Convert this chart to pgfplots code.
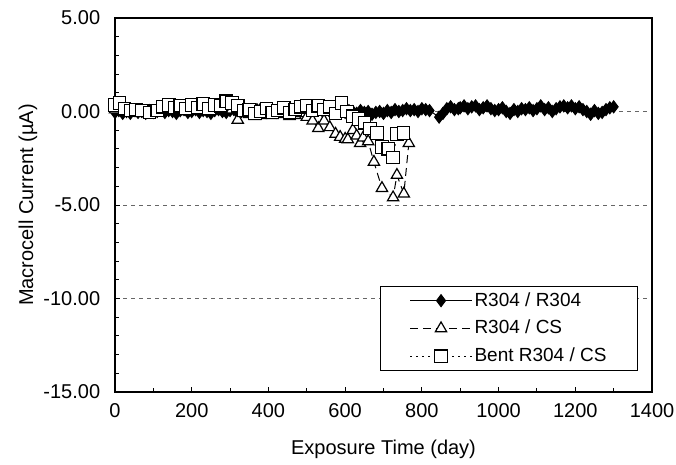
\documentclass[border=0pt]{standalone}
\usepackage{fontspec}
\setmainfont{Liberation Sans}
\usepackage{pgfplots}
\pgfplotsset{compat=1.18}
\begin{document}
\fontsize{20bp}{24bp}\selectfont
\begin{tikzpicture}
\useasboundingbox (0,0) rectangle (676bp,465bp);
\begin{axis}[
  at={(115bp,73bp)}, anchor=south west,
  scale only axis, width=537bp, height=374bp,
  xmin=0, xmax=1400, ymin=-15, ymax=5,
  xtick={0,200,...,1400}, minor x tick num=1,
  ytick={-15,-10,-5,0,5}, minor y tick num=4,
  tick pos=left, tick align=inside,
  major tick length=5bp, minor tick length=4bp,
  every tick/.style={black, line width=0.9bp},
  axis line style={line width=1.6bp},
  /pgf/number format/assume math mode=true,
  /pgf/number format/1000 sep={},
  scaled y ticks=false,
  y tick label style={/pgf/number format/.cd, fixed, fixed zerofill, precision=2, /tikz/.cd, xshift=-8bp},
  x tick label style={yshift=-5bp},
  ymajorgrids,
  grid style={black!60, line width=0.9bp, dash pattern=on 4bp off 4bp},
  xlabel={Exposure Time (day)},
  ylabel={Macrocell Current (µA)},
  xlabel style={at={(axis description cs:0.5,-0.152)}, anchor=center},
  ylabel style={at={(axis description cs:-0.162,0.5)}, anchor=center},
  legend style={at={(rel axis cs:0.974,0.056)}, anchor=south east, draw=black, line width=1bp, fill=white,
    font=\fontsize{19bp}{22bp}\selectfont, inner xsep=29bp, inner ysep=4bp, row sep=7bp,
    nodes={inner xsep=2bp}},
  legend cell align=left,
  legend image code/.code={\draw[mark repeat=2,mark phase=2] plot coordinates {(0bp,0bp) (31bp,0bp) (62bp,0bp)};},
]
\addplot[black, line width=1bp, mark=diamond*, mark size=6bp, mark options={solid, fill=black}] coordinates {
(0,-0.05) (10,0.05) (20,-0.1) (30,0.0) (40,-0.1) (50,0.05) (60,-0.05) (70,0.0) (80,-0.1) (90,0.05)
(100,-0.05) (110,0.0) (120,0.1) (130,-0.05) (140,0.05) (150,0.0) (160,-0.1) (170,0.05) (180,0.1) (190,-0.05)
(200,0.0) (210,0.1) (220,-0.05) (230,0.05) (240,0.0) (250,-0.1) (260,0.05) (270,0.1) (280,0.0) (290,-0.05)
(300,0.05) (310,0.1) (320,-0.05) (330,0.0) (340,0.1) (350,0.05) (360,-0.05) (370,0.1) (380,0.15) (390,0.05)
(400,0.0) (410,0.1) (420,-0.05) (430,0.05) (440,0.15) (450,0.1) (460,0.0) (470,0.1) (480,0.15) (490,0.05)
(500,0.1) (510,0.0) (520,0.1) (530,0.15) (540,0.05) (550,0.1) (560,0.0) (570,0.05) (580,0.1) (590,0.0)
(600,-0.05) (610,0.05) (620,0.0) (630,-0.1) (640,0.05) (650,-0.05) (660,0.0) (670,-0.15) (680,-0.05) (690,0.0)
(700,-0.1) (710,0.05) (720,-0.05) (730,0.1) (740,0.0) (750,0.05) (760,0.15) (770,0.05) (780,0.1) (790,0.0)
(800,0.15) (810,0.1) (820,0.05) (845,-0.3) (855,-0.1) (865,0.15) (875,0.25) (885,0.1) (895,0.15)
(900,0.2) (910,0.3) (920,0.15) (930,0.25) (940,0.3) (950,0.1) (960,0.2) (970,0.3) (980,0.15) (990,0.05)
(1000,0.1) (1010,0.2) (1020,0.0) (1030,-0.1) (1040,0.1) (1050,0.0) (1060,0.15) (1070,0.1) (1080,0.2) (1090,0.05)
(1100,0.15) (1110,0.3) (1120,0.1) (1130,0.2) (1140,0.0) (1150,0.15) (1160,0.25) (1170,0.3) (1180,0.2) (1190,0.3)
(1200,0.15) (1210,0.25) (1220,0.1) (1230,0.0) (1240,-0.15) (1250,0.05) (1260,-0.1) (1270,-0.05) (1280,0.1) (1290,0.2)
(1300,0.25)
};
\addlegendentry{R304 / R304}
\addplot[black, line width=1bp, dash pattern=on 8bp off 5bp, mark=triangle*, mark size=6.5bp, mark options={solid, fill=white, line width=1.2bp}] coordinates {
(0,0.1) (12,0.2) (25,0.0) (40,-0.05) (55,0.0) (70,-0.1) (90,-0.1) (110,0.0) (125,0.1) (140,0.15)
(155,0.05) (170,0.1) (185,0.0) (200,0.15) (215,0.05) (230,0.1) (245,0.0) (260,0.1) (275,0.05) (290,0.2)
(305,0.1) (320,-0.45) (335,-0.1) (350,-0.15) (365,-0.25) (380,-0.2) (395,-0.1) (410,-0.2) (425,-0.15) (440,-0.1)
(455,-0.25) (470,-0.2) (485,-0.1) (500,-0.3) (515,-0.5) (530,-0.9) (545,-0.5) (560,-0.85) (575,-1.2) (587,-1.37)
(600,-1.47) (607,-1.5) (620,-1.0) (630,-1.3) (639,-1.7) (647,-1.4) (660,-1.6) (675,-2.7) (696,-4.1) (725,-4.6)
(735,-3.4) (753,-4.4) (766,-1.7)
};
\addlegendentry{R304 / CS}
\addplot[black, line width=1bp, dash pattern=on 2bp off 4bp, mark=square*, mark size=6.2bp, mark options={solid, fill=white, line width=1.2bp}] coordinates {
(0,0.35) (12,0.45) (25,0.15) (40,0.05) (55,0.1) (70,0.05) (90,-0.05) (110,0.05) (125,0.25) (140,0.35)
(155,0.2) (170,0.3) (185,0.15) (200,0.35) (215,0.2) (230,0.4) (245,0.15) (260,0.35) (275,0.3) (290,0.55)
(305,0.45) (320,0.3) (335,0.05) (350,0.1) (365,-0.1) (380,0.0) (395,0.15) (410,-0.05) (425,0.05) (440,0.2)
(455,-0.05) (470,0.1) (485,0.25) (500,0.3) (515,0.05) (530,0.3) (545,0.1) (560,0.25) (575,-0.1) (590,0.45)
(605,0.0) (620,-0.25) (635,-0.4) (650,-0.6) (665,-0.9) (683,-1.15) (696,-1.9) (712,-2.0) (725,-2.45) (735,-1.2)
(752,-1.15)
};
\addlegendentry{Bent R304 / CS}
\end{axis}
\end{tikzpicture}
\end{document}
